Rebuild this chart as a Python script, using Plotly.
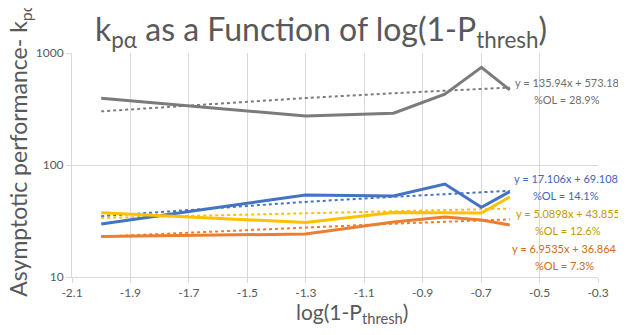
import plotly.graph_objects as go

# ---- data ----
log_x = [-2.0, -1.301, -1.0, -0.824, -0.699, -0.602]
series_names = ["Blue", "Orange", "Gray", "Yellow"]
blue_vals = [29.7, 54.0, 52.9, 67.6, 41.9, 57.8]
orange_vals = [23.0, 24.2, 31.0, 34.3, 32.3, 29.1]
gray_vals = [394, 274, 290, 428, 745, 468]
yellow_vals = [37.5, 30.6, 37.6, 37.2, 37.3, 51.8]

trend_slopes = {"Blue": 17.106, "Orange": 6.9535, "Gray": 135.94, "Yellow": 5.0898}
trend_intercepts = {"Blue": 69.108, "Orange": 36.864, "Gray": 573.18, "Yellow": 43.855}
trend_ol = {"Blue": "14.1%", "Orange": "7.3%", "Gray": "28.9%", "Yellow": "12.6%"}

x_tick_vals = [-2.1, -1.9, -1.7, -1.5, -1.3, -1.1, -0.9, -0.7, -0.5, -0.3]
x_tick_text = ["-2.1", "-1.9", "-1.7", "-1.5", "-1.3", "-1.1", "-0.9", "-0.7", "-0.5", "-0.3"]
y_tick_vals = [10, 100, 1000]
y_tick_text = ["10", "100", "1000"]

values = {"Blue": blue_vals, "Orange": orange_vals, "Gray": gray_vals, "Yellow": yellow_vals}
line_colors = {"Blue": "#4472C4", "Orange": "#ED7D31", "Gray": "#7B7B7B", "Yellow": "#FFC000"}
text_colors = {"Blue": "#3D67B8", "Orange": "#CF6A22", "Gray": "#6E6E6E", "Yellow": "#C49A00"}

FONT = "Lato, Calibri, 'Open Sans', sans-serif"
OFF = 8  # page body margin
PAGE_W, PAGE_H = 626, 335
W, H = PAGE_W - OFF, PAGE_H - OFF
PLOT_L, PLOT_R, PLOT_T, PLOT_B = 72, 598, 53, 277.5  # page pixels
L, R, T, B = PLOT_L - OFF, PAGE_W - PLOT_R, PLOT_T - OFF, PAGE_H - PLOT_B

fig = go.Figure()

# trendlines (dotted) first, then data lines
for name in series_names:
    trend = [trend_slopes[name] * xv + trend_intercepts[name] for xv in log_x]
    fig.add_trace(go.Scatter(x=log_x, y=trend, mode="lines",
                             line=dict(color=line_colors[name], width=2, dash="dot"),
                             showlegend=False, hoverinfo="skip"))
for name in series_names:
    fig.add_trace(go.Scatter(x=log_x, y=values[name], mode="lines", name=name,
                             line=dict(color=line_colors[name], width=3),
                             showlegend=False))

def px_x(p):
    return (p - PLOT_L) / (PLOT_R - PLOT_L)

def px_y(p):
    return (PLOT_B - p) / (PLOT_B - PLOT_T)

annotations = []
# equation labels: (center x px, line1 y px) in page pixels
label_pos = {"Gray": (567, 83), "Blue": (566, 179), "Yellow": (568, 214), "Orange": (564, 249)}
for name in ["Gray", "Blue", "Yellow", "Orange"]:
    cx, cy = label_pos[name]
    eq = f"y = {trend_slopes[name]}x + {trend_intercepts[name]}"
    annotations.append(dict(x=px_x(cx), y=px_y(cy), xref="paper", yref="paper",
                            text=eq, showarrow=False, xanchor="center", yanchor="middle",
                            font=dict(family=FONT, size=11, color=text_colors[name])))
    annotations.append(dict(x=px_x(cx), y=px_y(cy + 16.5), xref="paper", yref="paper",
                            text=f"%OL = {trend_ol[name]}", showarrow=False,
                            xanchor="center", yanchor="middle",
                            font=dict(family=FONT, size=11, color=text_colors[name])))

# chart title
annotations.append(dict(x=px_x(321), y=px_y(31), xref="paper", yref="paper",
                        text="k<sub>pα</sub> as a Function of log(1-P<sub>thresh</sub>)",
                        showarrow=False, xanchor="center", yanchor="middle",
                        font=dict(family=FONT, size=32, color="#595959")))
# axis titles
annotations.append(dict(x=px_x(352), y=px_y(314), xref="paper", yref="paper",
                        text="log(1-P<sub>thresh</sub>)", showarrow=False,
                        xanchor="center", yanchor="middle",
                        font=dict(family=FONT, size=21, color="#595959")))
annotations.append(dict(x=px_x(20), y=px_y(150), xref="paper", yref="paper",
                        text="Asymptotic performance- k<sub>pα</sub>", showarrow=False,
                        textangle=-90, xanchor="center", yanchor="middle",
                        font=dict(family=FONT, size=23, color="#595959")))

fig.update_layout(
    width=W, height=H,
    margin=dict(l=L, r=R, t=T, b=B),
    paper_bgcolor="white", plot_bgcolor="white",
    font=dict(family=FONT, color="#595959"),
    annotations=annotations,
    xaxis=dict(range=[-2.1, -0.3], tickvals=x_tick_vals, ticktext=x_tick_text,
               showgrid=True, gridcolor="#D9D9D9", gridwidth=1,
               showline=True, linecolor="#D9D9D9", linewidth=1,
               ticks="outside", ticklen=5, tickcolor="#D9D9D9",
               tickfont=dict(family=FONT, size=12, color="#595959"), zeroline=False),
    yaxis=dict(type="log", range=[1, 3], tickvals=y_tick_vals, ticktext=y_tick_text,
               showgrid=True, gridcolor="#D9D9D9", gridwidth=1,
               showline=True, linecolor="#D9D9D9", linewidth=1,
               ticks="outside", ticklen=5, tickcolor="#D9D9D9",
               tickfont=dict(family=FONT, size=12, color="#595959"), zeroline=False),
)

fig.write_html("out.html")
